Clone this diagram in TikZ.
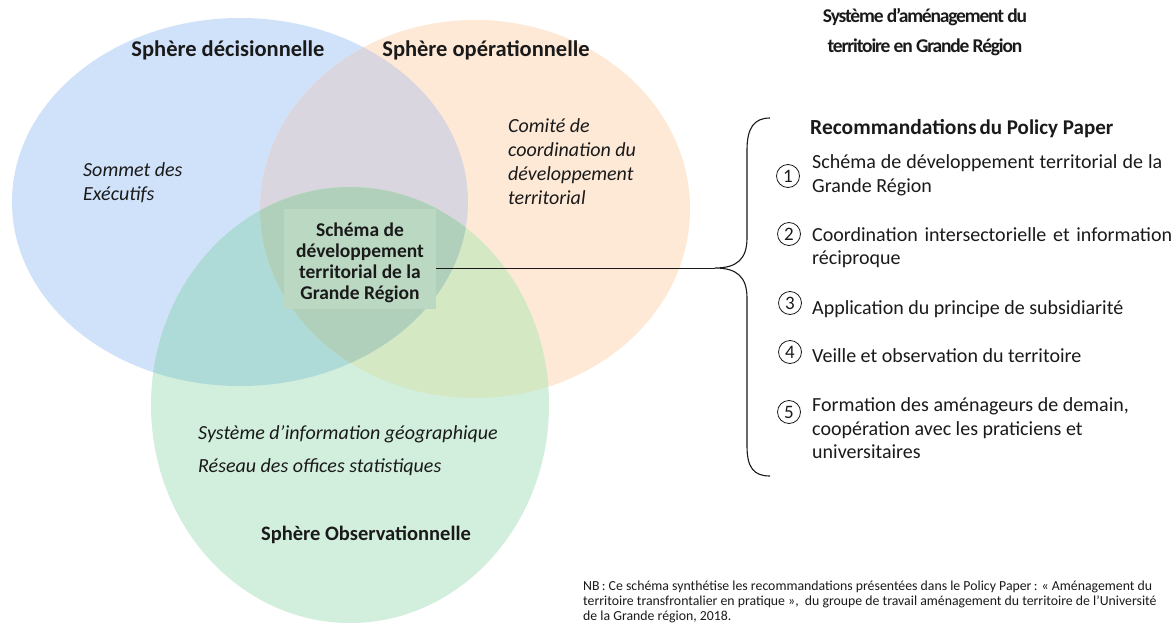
\documentclass[tikz,border=0pt]{standalone}
\usepackage{fontspec}
\setmainfont{Carlito}
\newfontfamily\titlefont[LetterSpace=-6]{Carlito}
\definecolor{cB}{HTML}{D0E2FA}
\definecolor{cO}{HTML}{FEE9D7}
\definecolor{cG}{HTML}{D2EEDC}
\definecolor{cBO}{HTML}{DAD6E0}
\definecolor{cBG}{HTML}{AEDAD8}
\definecolor{cOG}{HTML}{D4E8C4}
\definecolor{cBOG}{HTML}{B0D0BC}
\definecolor{cBox}{HTML}{BBD8C3}
\definecolor{txt}{HTML}{1A1A1A}
\tikzset{
  sphlabel/.style={font=\fontsize{22.5}{26}\selectfont\bfseries, text=txt, inner sep=0pt},
  itlabel/.style={font=\fontsize{20}{23.5}\selectfont\itshape, text=txt, inner sep=0pt, align=left, anchor=north west},
  itemtext/.style={font=\fontsize{20}{23.5}\selectfont, text=txt, inner sep=0pt, align=left, anchor=north west},
  numcirc/.style={circle, draw=txt, line width=0.8pt, minimum size=23pt, inner sep=0pt, font=\fontsize{19}{19}\selectfont, text=txt},
}
\newcommand{\ellB}{(240,202) ellipse [x radius=228, y radius=184]}
\newcommand{\ellO}{(475,209) ellipse [x radius=215, y radius=189]}
\newcommand{\ellG}{(350,405) ellipse [x radius=199, y radius=218]}
\begin{document}
\begin{tikzpicture}[x=1pt,y=-1pt]
\useasboundingbox (0,0) rectangle (1176,632);
\fill[white] (0,0) rectangle (1176,632);
% spheres
\fill[cB] \ellB;
\fill[cO] \ellO;
\fill[cG] \ellG;
\begin{scope}\clip \ellB; \fill[cBO] \ellO; \end{scope}
\begin{scope}\clip \ellB; \fill[cBG] \ellG; \end{scope}
\begin{scope}\clip \ellO; \fill[cOG] \ellG; \end{scope}
\begin{scope}\clip \ellB; \clip \ellO; \fill[cBOG] \ellG; \end{scope}
% center box
\fill[cBox] (284,209) rectangle (436,309);
\node[inner sep=0pt, font=\fontsize{19.5}{21}\selectfont\bfseries, text=txt, align=center] (center) at (360,263)
  {Schéma de\\développement\\territorial de la\\Grande Région};
\coordinate (boxE) at (436,268);
% sphere labels
\node[sphlabel] (dec) at (228,50) {Sphère décisionnelle};
\node[sphlabel] (ope) at (486,50) {Sphère opérationnelle};
\node[sphlabel, font=\fontsize{20.5}{24}\selectfont\bfseries] (obs) at (366,535) {Sphère Observationnelle};
\node[itlabel] (som) at (83,162.6) {Sommet des\\Exécutifs};
\node[itlabel, font=\fontsize{20}{24}\selectfont\itshape] (com) at (508,118.6) {Comité de\\coordination du\\développement\\territorial};
\node[itlabel] (sig) at (198,425.6) {Système d’information géographique};
\node[itlabel] (res) at (198,458.6) {Réseau des offices statistiques};
% title
\node[font=\titlefont\fontsize{19.5}{30}\selectfont\bfseries, text=txt, align=center, inner sep=0pt] (title) at (925,32)
  {Système d’aménagement du\\territoire en Grande Région};
% brace
\coordinate (btop) at (770,118);
\coordinate (bbot) at (770,476);
\coordinate (btip) at (715,268);
\draw[line width=1.1pt, txt] (btop) .. controls (754,118) and (747,128) .. (747,150)
  -- (747,238) .. controls (747,259) and (737,268) .. (btip)
  .. controls (737,268) and (747,277) .. (747,298)
  -- (747,446) .. controls (747,468) and (754,476) .. (bbot);
\draw[line width=1pt, txt] (boxE) -- (btip);
% list
\node[anchor=base west, inner sep=0pt, text=txt] (rec) at (810,134)
  {\fontsize{21.5}{24}\selectfont\bfseries Recommandations\kern3pt\fontsize{21}{24}\selectfont du Policy Paper};
\node[numcirc] (n1) at (788,176) {1};
\node[itemtext, font=\fontsize{20}{24}\selectfont] (t1) at (812,154.6) {\makebox[350pt][s]{Schéma de développement territorial de la}\\Grande Région};
\node[numcirc] (n2) at (789,234) {2};
\node[itemtext, font=\fontsize{20}{23}\selectfont] (t2) at (812,227.6) {\makebox[360pt][s]{Coordination intersectorielle et information}\\réciproque};
\node[numcirc] (n3) at (790,303) {3};
\node[itemtext] (t3) at (812,300.6) {Application du principe de subsidiarité};
\node[numcirc] (n4) at (790,352) {4};
\node[itemtext] (t4) at (812,348.6) {Veille et observation du territoire};
\node[numcirc] (n5) at (789,412) {5};
\node[itemtext] (t5) at (812,397.6) {Formation des aménageurs de demain,\\coopération avec les praticiens et\\universitaires};
% NB
\node[anchor=north west, inner sep=0pt, align=left, text=txt, font=\fontsize{13.8}{15}\selectfont] (nb) at (583,581)
  {NB\,: Ce schéma synthétise les recommandations présentées dans le Policy Paper\,: « Aménagement du\\territoire transfrontalier en pratique »,\ \ du groupe de travail aménagement du territoire de l’Université\\de la Grande région, 2018.};
\end{tikzpicture}
\end{document}
